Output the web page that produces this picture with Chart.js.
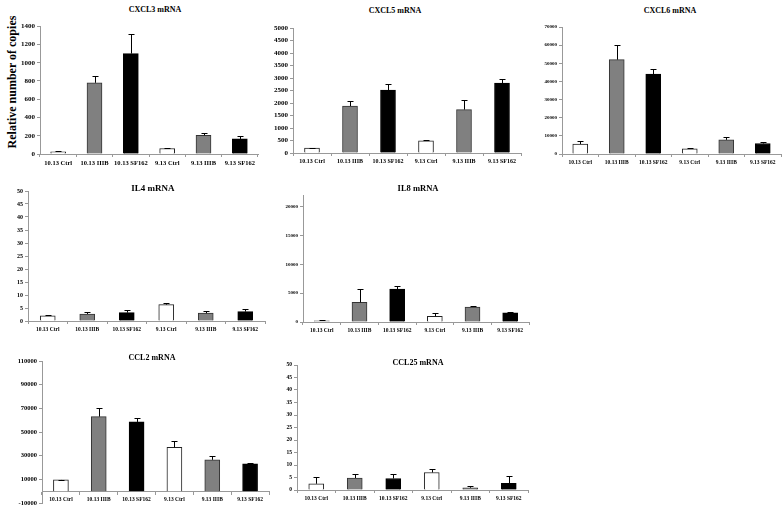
<!DOCTYPE html>
<html lang="en">
<head>
<meta charset="UTF-8">
<title>Relative number of copies</title>
<style>
  body { margin: 0; background: #fff; width: 784px; height: 507px; position: relative; overflow: hidden; }
  canvas { position: absolute; }
  .title { position: absolute; font-family: "Liberation Serif", serif; font-weight: bold; transform: translate(-50%, -50%); white-space: nowrap; color: #000; }
  #ytitle { position: absolute; left: 12px; top: 82px; font: bold 12px "Liberation Serif", serif; transform: translate(-50%, -50%) rotate(-90deg); white-space: nowrap; color: #000; }
</style>
</head>
<body>
<div id="ytitle">Relative number of copies</div>
<script src="https://cdn.jsdelivr.net/npm/chart.js@4"></script>
<script>
const categories = ['10.13 Ctrl', '10.13 IIIB', '10.13 SF162', '9.13 Ctrl', '9.13 IIIB', '9.13 SF162'];

const cxcl3Values = [25, 780, 1100, 60, 205, 165];
const cxcl3Errors = [8, 75, 210, 10, 30, 30];
const cxcl3Ticks = [0, 200, 400, 600, 800, 1000, 1200, 1400];

const cxcl5Values = [200, 1880, 2520, 490, 1740, 2800];
const cxcl5Errors = [20, 220, 250, 50, 380, 150];
const cxcl5Ticks = [0, 500, 1000, 1500, 2000, 2500, 3000, 3500, 4000, 4500, 5000];

const cxcl6Values = [5500, 52000, 44000, 2800, 7800, 5800];
const cxcl6Errors = [1700, 8000, 3000, 300, 1700, 1000];
const cxcl6Ticks = [0, 10000, 20000, 30000, 40000, 50000, 60000, 70000];

const il4Values = [2.0, 2.7, 3.2, 6.3, 3.0, 3.6];
const il4Errors = [0.3, 0.6, 1.0, 0.5, 0.8, 0.9];
const il4Ticks = [0, 5, 10, 15, 20, 25, 30, 35, 40, 45, 50];

const il8Values = [200, 3400, 5700, 1000, 2600, 1600];
const il8Errors = [60, 2300, 600, 500, 200, 80];
const il8Ticks = [0, 5000, 10000, 15000, 20000];

const ccl2Values = [9500, 63000, 58500, 37000, 26500, 23000];
const ccl2Errors = [300, 7500, 3000, 5000, 3500, 1000];
const ccl2Ticks = [-10000, 10000, 30000, 50000, 70000, 90000, 110000];

const ccl25Values = [2.5, 4.8, 4.6, 7.0, 0.9, 2.7];
const ccl25Errors = [2.8, 1.8, 2.0, 1.6, 0.9, 3.0];
const ccl25Ticks = [0, 5, 10, 15, 20, 25, 30, 35, 40, 45, 50];

const barFill = ['#ffffff', '#808080', '#000000', '#ffffff', '#808080', '#000000'];
const barEdge = ['#222222', '#333333', '#000000', '#222222', '#333333', '#000000'];

// xs / ys: font size of category / value labels, ts: title size
const panels = [
  { title: 'CXCL3 mRNA', values: cxcl3Values, errors: cxcl3Errors, ticks: cxcl3Ticks, min: 0, max: 1400,
    axisX: 40, top: 26, bottom: 154, right: 258, tx: 155, ty: 9, ts: 8, xs: 6.5, ys: 7 },
  { title: 'CXCL5 mRNA', values: cxcl5Values, errors: cxcl5Errors, ticks: cxcl5Ticks, min: 0, max: 5000,
    axisX: 293, top: 28, bottom: 153, right: 521, tx: 395, ty: 10, ts: 8, xs: 6, ys: 7 },
  { title: 'CXCL6 mRNA', values: cxcl6Values, errors: cxcl6Errors, ticks: cxcl6Ticks, min: 0, max: 70000,
    axisX: 562, top: 27, bottom: 154, right: 781, tx: 670, ty: 10, ts: 8, xs: 5.5, ys: 5 },
  { title: 'IL4 mRNA', values: il4Values, errors: il4Errors, ticks: il4Ticks, min: 0, max: 50,
    axisX: 28, top: 191, bottom: 321, right: 265, tx: 153, ty: 188, ts: 9, xs: 5.5, ys: 6 },
  { title: 'IL8 mRNA', values: il8Values, errors: il8Errors, ticks: il8Ticks, min: 0, max: 22000,
    axisX: 303, top: 195, bottom: 322, right: 529, tx: 418, ty: 188, ts: 8.5, xs: 5.5, ys: 5 },
  { title: 'CCL2 mRNA', values: ccl2Values, errors: ccl2Errors, ticks: ccl2Ticks, min: -10000, max: 110000,
    axisX: 42, top: 361, bottom: 503, right: 269, tx: 152, ty: 357, ts: 8, xs: 5.5, ys: 6.5, zeroAxis: true },
  { title: 'CCL25 mRNA', values: ccl25Values, errors: ccl25Errors, ticks: ccl25Ticks, min: 0, max: 50,
    axisX: 297, top: 365, bottom: 490, right: 528, tx: 418, ty: 362, ts: 8, xs: 5.5, ys: 5.5 }
];

// draws the upward error bar of every bar from the y scale
const errorBars = {
  id: 'errorBars',
  afterDatasetsDraw(chart) {
    const ds = chart.data.datasets[0];
    const meta = chart.getDatasetMeta(0);
    const y = chart.scales.y;
    const ctx = chart.ctx;
    ctx.save();
    ctx.strokeStyle = '#000';
    ctx.lineWidth = 1;
    meta.data.forEach((bar, i) => {
      const e = ds.errors[i];
      if (!e) return;
      const top = Math.round(y.getPixelForValue(ds.data[i] + e)) + 0.5;
      const x = Math.round(bar.x) + 0.5;
      ctx.beginPath();
      ctx.moveTo(x, bar.y);
      ctx.lineTo(x, top);
      ctx.moveTo(x - 3, top);
      ctx.lineTo(x + 3, top);
      ctx.stroke();
    });
    ctx.restore();
  }
};

const yW = 30, padTop = 6, xH = 15;

panels.forEach(p => {
  const left = p.axisX - yW;
  const top = p.top - padTop;
  const width = p.right - left + 2;
  const height = p.zeroAxis ? (p.bottom - top + 6) : (p.bottom - top + xH);
  const canvas = document.createElement('canvas');
  canvas.width = width;
  canvas.height = height;
  canvas.style.left = left + 'px';
  canvas.style.top = top + 'px';
  canvas.style.width = width + 'px';
  canvas.style.height = height + 'px';
  document.body.appendChild(canvas);

  const t = document.createElement('div');
  t.className = 'title';
  t.textContent = p.title;
  t.style.left = p.tx + 'px';
  t.style.top = p.ty + 'px';
  t.style.fontSize = p.ts + 'px';
  document.body.appendChild(t);

  new Chart(canvas, {
    type: 'bar',
    data: {
      labels: categories,
      datasets: [{
        data: p.values,
        errors: p.errors,
        backgroundColor: barFill,
        borderColor: barEdge,
        borderWidth: 1,
        barThickness: 15
      }]
    },
    options: {
      responsive: false,
      animation: false,
      layout: { padding: { top: padTop, right: 2, bottom: p.zeroAxis ? 6 : 0, left: 0 } },
      plugins: { legend: { display: false }, tooltip: { enabled: false } },
      scales: {
        x: {
          position: p.zeroAxis ? { y: 0 } : 'bottom',
          grid: { display: true, drawOnChartArea: false, drawTicks: true, tickLength: 3, color: '#999', offset: true },
          border: { display: true, color: '#999' },
          ticks: { font: { family: 'Liberation Serif', weight: 'bold', size: p.xs }, color: '#000', padding: 2, maxRotation: 0, autoSkip: false },
          afterFit: s => { if (!p.zeroAxis) s.height = xH; }
        },
        y: {
          min: p.min,
          max: p.max,
          afterBuildTicks: s => { s.ticks = p.ticks.map(v => ({ value: v })); },
          grid: { display: true, drawOnChartArea: false, drawTicks: true, tickLength: 3, color: '#999' },
          border: { display: true, color: '#999' },
          ticks: { font: { family: 'Liberation Serif', weight: 'bold', size: p.ys }, color: '#000', padding: 2, callback: v => String(v) },
          afterFit: s => { s.width = yW; }
        }
      }
    },
    plugins: [errorBars]
  });
});
</script>
</body>
</html>
